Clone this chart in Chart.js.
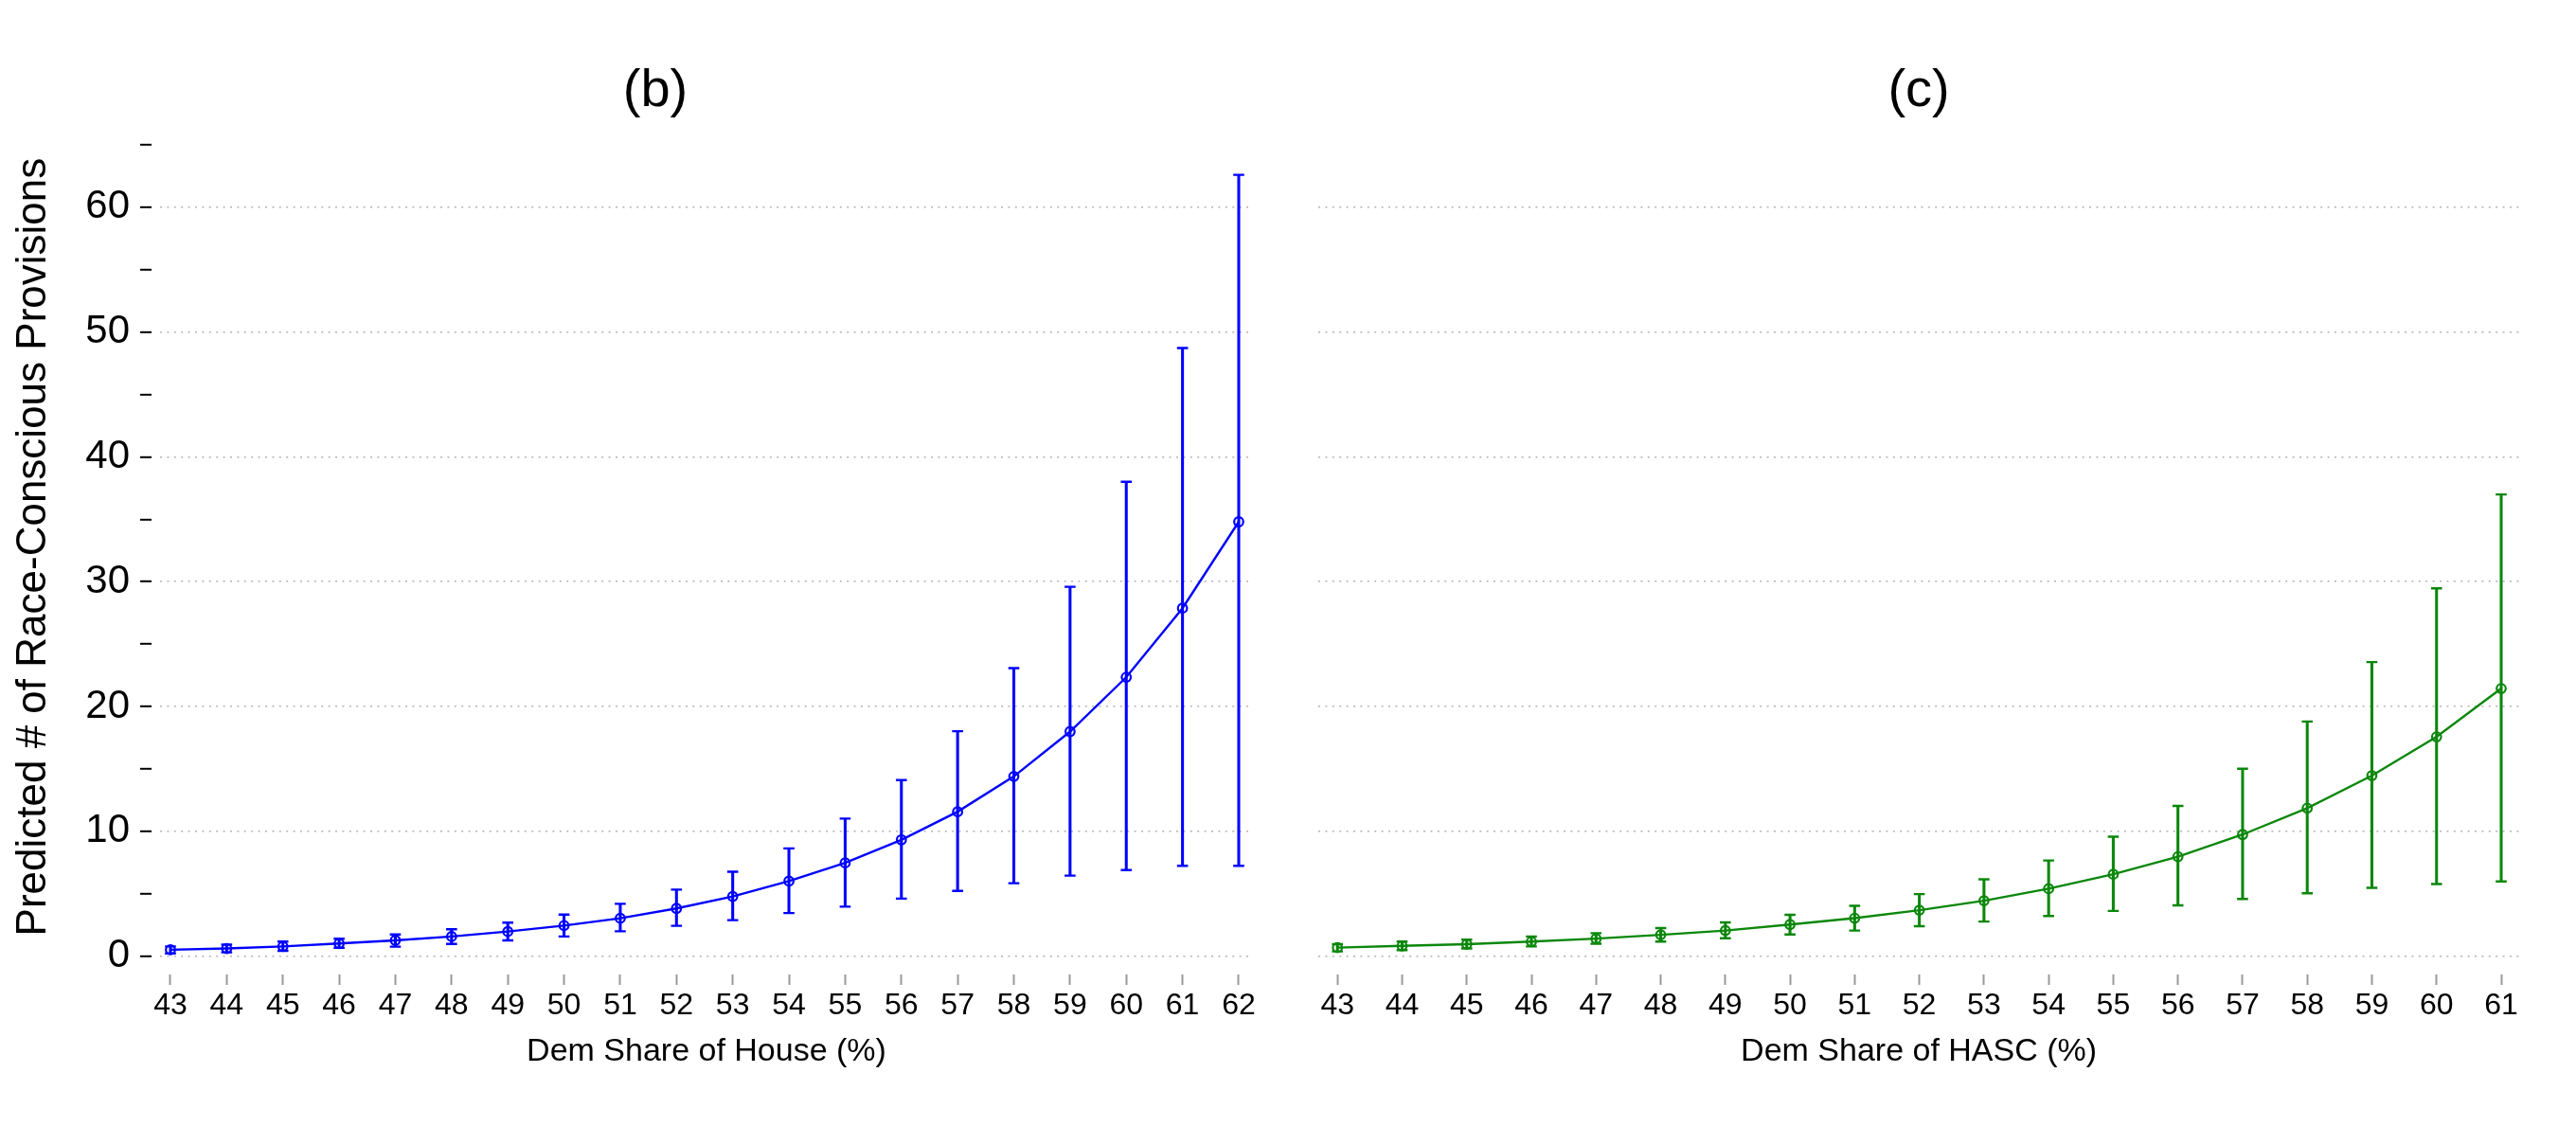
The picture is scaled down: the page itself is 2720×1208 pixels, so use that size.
<!DOCTYPE html>
<html>
<head>
<meta charset="utf-8">
<script src="https://cdn.jsdelivr.net/npm/chart.js@4.4.1/dist/chart.umd.min.js"></script>
<style>
  html, body { margin: 0; padding: 0; background: #ffffff; }
  body { width: 2720px; height: 1208px; position: relative; overflow: hidden; }
  canvas { position: absolute; top: 0; }
  #cLeft { left: 0px; }
  #cRight { left: 1384px; }
</style>
</head>
<body>
<canvas id="cLeft" width="1384" height="1208"></canvas>
<canvas id="cRight" width="1336" height="1208"></canvas>
<script>
// ---------- data ----------
const houseShare = [43, 44, 45, 46, 47, 48, 49, 50, 51, 52, 53, 54, 55, 56, 57, 58, 59, 60, 61, 62];
const housePred  = [0.51, 0.61, 0.78, 1.01, 1.26, 1.57, 1.97, 2.45, 3.03, 3.82, 4.78, 6.01, 7.47, 9.32, 11.57, 14.40, 17.99, 22.35, 27.88, 34.80];
const houseLow   = [0.22, 0.30, 0.43, 0.66, 0.76, 0.98, 1.26, 1.57, 1.99, 2.43, 2.88, 3.45, 3.96, 4.61, 5.22, 5.84, 6.45, 6.89, 7.24, 7.24];
const houseHigh  = [0.78, 0.92, 1.16, 1.39, 1.74, 2.15, 2.68, 3.33, 4.19, 5.33, 6.76, 8.63, 11.02, 14.10, 18.02, 23.07, 29.59, 38.00, 48.72, 62.60];

const hascShare = [43, 44, 45, 46, 47, 48, 49, 50, 51, 52, 53, 54, 55, 56, 57, 58, 59, 60, 61];
const hascPred  = [0.68, 0.82, 0.96, 1.16, 1.40, 1.71, 2.05, 2.53, 3.04, 3.68, 4.44, 5.40, 6.56, 7.97, 9.74, 11.86, 14.46, 17.57, 21.44];
const hascLow   = [0.38, 0.48, 0.61, 0.78, 0.99, 1.16, 1.43, 1.74, 2.05, 2.40, 2.77, 3.21, 3.62, 4.07, 4.58, 5.03, 5.47, 5.78, 5.98];
const hascHigh  = [0.96, 1.16, 1.33, 1.57, 1.84, 2.25, 2.70, 3.31, 4.03, 4.97, 6.15, 7.66, 9.57, 12.03, 15.01, 18.80, 23.56, 29.47, 36.99];

const yMajorTicks = [0, 10, 20, 30, 40, 50, 60];
const yMinorTicks = [5, 15, 25, 35, 45, 55, 65];
const yTickLabels = ['0', '10', '20', '30', '40', '50', '60'];

const panelTitles = ['(b)', '(c)'];
const xTitles = ['Dem Share of House (%)', 'Dem Share of HASC (%)'];
const yTitle = 'Predicted # of Race-Conscious Provisions';

// ---------- style ----------
Chart.defaults.font.family = "'Liberation Sans', Arial, Helvetica, sans-serif";
Chart.defaults.color = '#000000';
const GRID = '#b4b4b4';

function buildDatasets(xs, pred, lo, hi, color) {
  return [
    {
      type: 'line',
      data: xs.map((x, i) => ({x: x, y: pred[i]})),
      borderColor: color,
      borderWidth: 2.4,
      tension: 0,
      pointStyle: 'circle',
      pointRadius: 4.8,
      pointBorderWidth: 2.2,
      pointBorderColor: color,
      pointBackgroundColor: 'rgba(0,0,0,0)',
      order: 0
    },
    {
      type: 'bar',
      data: xs.map((x, i) => ({x: x, y: [lo[i], hi[i]]})),
      backgroundColor: color,
      borderWidth: 0,
      barThickness: 2.4,
      order: 1
    },
    {
      type: 'line',
      data: xs.map((x, i) => ({x: x, y: hi[i]})),
      showLine: false,
      pointStyle: 'line',
      pointRadius: 5.8,
      pointBorderWidth: 2.4,
      pointBorderColor: color,
      order: 2
    },
    {
      type: 'line',
      data: xs.map((x, i) => ({x: x, y: lo[i]})),
      showLine: false,
      pointStyle: 'line',
      pointRadius: 5.8,
      pointBorderWidth: 2.4,
      pointBorderColor: color,
      order: 2
    }
  ];
}

const allYTicks = yMajorTicks.concat(yMinorTicks).sort((a, b) => a - b);

function yScale(showLabels, axisWidth) {
  return {
    type: 'linear',
    position: 'left',
    min: -0.94,
    max: 66.5,
    afterBuildTicks: (axis) => { axis.ticks = allYTicks.map(v => ({value: v})); },
    afterFit: (axis) => { axis.width = axisWidth; },
    border: { display: false, dash: [2, 5.4] },
    grid: {
      color: (ctx) => (ctx.tick && yMajorTicks.includes(ctx.tick.value)) ? GRID : 'rgba(0,0,0,0)',
      lineWidth: 1.6,
      drawTicks: showLabels,
      tickLength: 21,
      tickColor: '#000000',
      tickWidth: 2,
      tickBorderDash: [12, 40]
    },
    ticks: {
      display: showLabels,
      padding: 11,
      font: { size: 42 },
      color: '#000000',
      callback: (v) => {
        const k = yMajorTicks.indexOf(v);
        return k >= 0 ? yTickLabels[k] : '';
      }
    },
    title: showLabels ? {
      display: true,
      text: yTitle,
      font: { size: 44 },
      color: '#000000',
      padding: { top: 9, bottom: 0 }
    } : { display: false }
  };
}

function xScale(cats, xmin, xmax, titleText) {
  return {
    type: 'linear',
    position: 'bottom',
    min: xmin,
    max: xmax,
    offset: false,
    afterBuildTicks: (axis) => { axis.ticks = cats.map(v => ({value: v})); },
    afterFit: (axis) => { axis.height = 114; },
    border: { display: false },
    grid: {
      offset: false,
      drawOnChartArea: false,
      drawTicks: true,
      tickLength: 18,
      tickColor: '#9a9a9a',
      tickWidth: 2,
      tickBorderDash: [0, 7, 11, 40]
    },
    ticks: {
      padding: 3,
      font: { size: 32 },
      color: '#000000',
      maxRotation: 0,
      autoSkip: false,
      callback: (v) => String(v)
    },
    title: {
      display: true,
      text: titleText,
      font: { size: 34 },
      color: '#000000',
      padding: { top: 4, bottom: 5 }
    }
  };
}

// empty right-hand spacer axis, keeps the plot area narrower than the panel
function spacerScale(width) {
  return {
    type: 'linear',
    position: 'right',
    display: true,
    afterFit: (axis) => { axis.width = width; },
    border: { display: false },
    grid: { display: false, drawTicks: false },
    ticks: { display: false }
  };
}

function makeChart(id, datasets, title, xs, xmin, xmax, xTitle, showY, yWidth, padRight) {
  return new Chart(document.getElementById(id), {
    type: 'line',
    data: { datasets: datasets },
    options: {
      responsive: false,
      devicePixelRatio: 1,
      animation: false,
      events: [],
      layout: { padding: { top: 0, left: 0, right: 0, bottom: 72 } },
      plugins: {
        legend: { display: false },
        tooltip: { enabled: false },
        title: {
          display: true,
          text: title,
          fullSize: showY,
          color: '#000000',
          font: { size: 56, weight: 'normal' },
          padding: { top: 63, bottom: 3 }
        }
      },
      scales: {
        x: xScale(xs, xmin, xmax, xTitle),
        y: yScale(showY, yWidth),
        ypad: spacerScale(padRight)
      }
    }
  });
}

makeChart('cLeft', buildDatasets(houseShare, housePred, houseLow, houseHigh, '#0000ff'),
  panelTitles[0], houseShare, 42.815, 62.253, xTitles[0], true, 169, 61);

makeChart('cRight', buildDatasets(hascShare, hascPred, hascLow, hascHigh, '#0b870b'),
  panelTitles[1], hascShare, 42.707, 61.278, xTitles[1], false, 8, 60);
</script>
</body>
</html>
